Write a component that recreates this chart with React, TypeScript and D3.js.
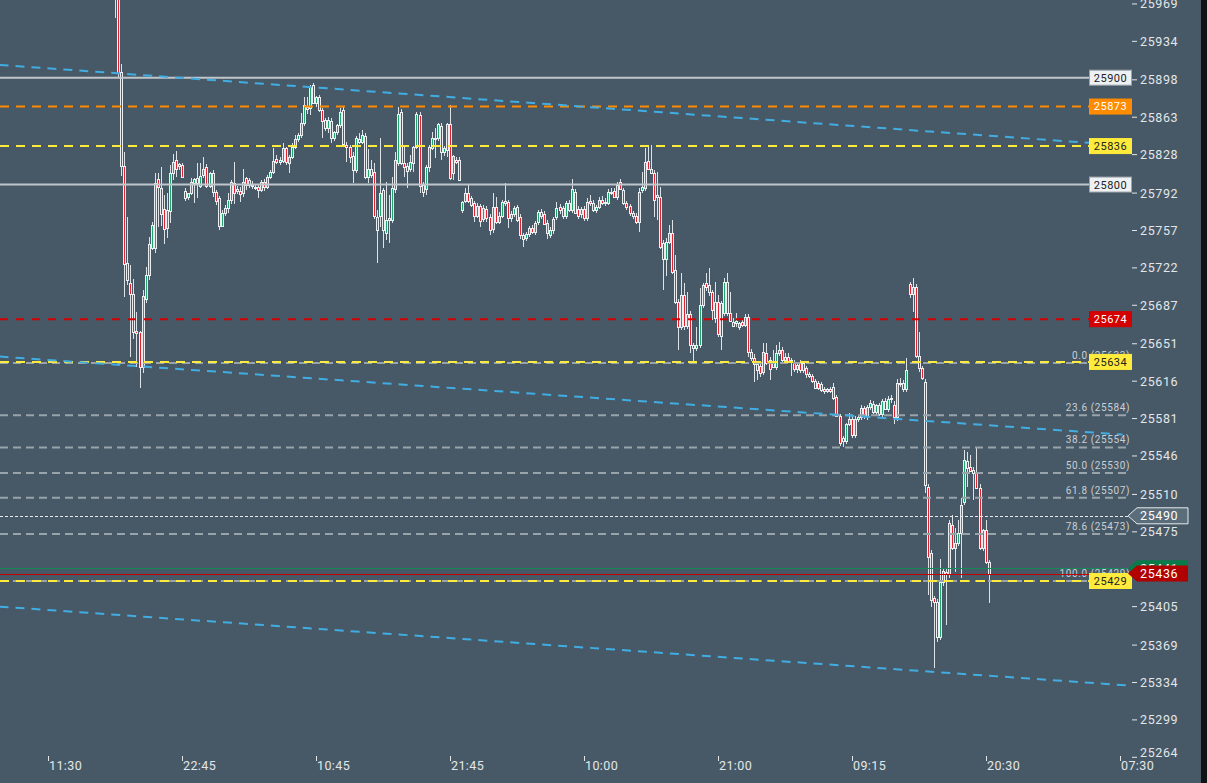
import * as d3 from 'd3';

const W = 1207;
const H = 783;

// OHLC per bar: [open, high, low, close]
const candles: [number, number, number, number][] = [
  [25990, 25998, 25956, 25978], [25980, 25988, 25900, 25904], [25905, 25913, 25808, 25817], [25817, 25830, 25695, 25726],
  [25727, 25770, 25706, 25711], [25708, 25725, 25639, 25698], [25698, 25712, 25655, 25662], [25663, 25681, 25629, 25661],
  [25662, 25663, 25610, 25629], [25629, 25701, 25624, 25696], [25693, 25723, 25689, 25715], [25715, 25751, 25711, 25744],
  [25741, 25765, 25739, 25762], [25741, 25811, 25736, 25801], [25805, 25811, 25760, 25798], [25797, 25816, 25761, 25772],
  [25777, 25790, 25744, 25758], [25759, 25792, 25750, 25776], [25775, 25818, 25764, 25811], [25811, 25829, 25804, 25821],
  [25823, 25831, 25807, 25815], [25817, 25820, 25814, 25819], [25818, 25820, 25806, 25807], [25794, 25797, 25785, 25787],
  [25788, 25792, 25786, 25792], [25792, 25806, 25790, 25802], [25801, 25806, 25783, 25805], [25806, 25820, 25787, 25801],
  [25799, 25820, 25797, 25808], [25809, 25826, 25806, 25815], [25816, 25819, 25797, 25799], [25799, 25812, 25797, 25811],
  [25811, 25814, 25788, 25793], [25793, 25795, 25781, 25785], [25787, 25789, 25757, 25761], [25761, 25776, 25760, 25773],
  [25773, 25781, 25771, 25778], [25778, 25792, 25773, 25786], [25786, 25804, 25782, 25802], [25801, 25821, 25782, 25792],
  [25796, 25799, 25791, 25794], [25794, 25798, 25784, 25791], [25792, 25815, 25788, 25802], [25806, 25807, 25795, 25800],
  [25804, 25806, 25797, 25800], [25800, 25803, 25796, 25799], [25798, 25800, 25795, 25798], [25798, 25800, 25787, 25795],
  [25795, 25804, 25793, 25802], [25802, 25805, 25794, 25798], [25798, 25809, 25796, 25807], [25807, 25814, 25805, 25812],
  [25812, 25834, 25810, 25822], [25824, 25828, 25819, 25821], [25821, 25826, 25818, 25823], [25822, 25839, 25820, 25834],
  [25834, 25835, 25818, 25821], [25820, 25828, 25811, 25826], [25826, 25839, 25824, 25835], [25835, 25846, 25833, 25843],
  [25843, 25848, 25840, 25846], [25846, 25867, 25844, 25858], [25858, 25882, 25855, 25874], [25873, 25882, 25866, 25871],
  [25872, 25893, 25865, 25891], [25893, 25895, 25875, 25876], [25876, 25883, 25873, 25882], [25882, 25884, 25868, 25870],
  [25870, 25872, 25844, 25859], [25860, 25862, 25850, 25853], [25853, 25863, 25848, 25860], [25859, 25862, 25839, 25844],
  [25844, 25850, 25841, 25849], [25849, 25857, 25846, 25856], [25856, 25872, 25853, 25868], [25870, 25873, 25836, 25838],
  [25837, 25840, 25821, 25835], [25835, 25837, 25820, 25826], [25827, 25830, 25801, 25814], [25814, 25845, 25811, 25844],
  [25843, 25848, 25838, 25840], [25840, 25851, 25838, 25846], [25845, 25848, 25805, 25807], [25807, 25833, 25801, 25815],
  [25815, 25823, 25806, 25809], [25812, 25820, 25768, 25771], [25770, 25776, 25727, 25757], [25771, 25844, 25760, 25792],
  [25795, 25797, 25741, 25757], [25755, 25802, 25748, 25767], [25767, 25790, 25745, 25769], [25767, 25807, 25764, 25797],
  [25796, 25830, 25792, 25823], [25820, 25873, 25817, 25866], [25868, 25871, 25818, 25820], [25820, 25836, 25807, 25816],
  [25817, 25820, 25797, 25813], [25815, 25828, 25812, 25821], [25820, 25836, 25812, 25835], [25835, 25868, 25833, 25866],
  [25865, 25868, 25792, 25799], [25800, 25802, 25788, 25793], [25796, 25818, 25790, 25816], [25816, 25837, 25812, 25835],
  [25834, 25849, 25832, 25844], [25844, 25853, 25825, 25843], [25844, 25858, 25841, 25857], [25855, 25858, 25823, 25830],
  [25830, 25836, 25827, 25834], [25832, 25858, 25826, 25857], [25857, 25874, 25804, 25806], [25811, 25828, 25804, 25827],
  [25823, 25826, 25819, 25821], [25823, 25826, 25803, 25804], [25776, 25785, 25773, 25784], [25785, 25797, 25783, 25792],
  [25792, 25800, 25783, 25785], [25787, 25789, 25779, 25781], [25783, 25785, 25765, 25771], [25771, 25783, 25769, 25780],
  [25780, 25782, 25760, 25766], [25768, 25781, 25765, 25778], [25777, 25780, 25765, 25769], [25770, 25772, 25753, 25757],
  [25758, 25792, 25755, 25779], [25779, 25788, 25763, 25765], [25765, 25774, 25763, 25771], [25771, 25786, 25769, 25784],
  [25785, 25801, 25780, 25783], [25784, 25786, 25759, 25769], [25769, 25775, 25765, 25772], [25772, 25780, 25770, 25778],
  [25779, 25781, 25765, 25767], [25770, 25772, 25749, 25753], [25753, 25755, 25742, 25749], [25750, 25756, 25747, 25754],
  [25754, 25761, 25751, 25759], [25759, 25762, 25754, 25756], [25756, 25766, 25753, 25764], [25765, 25776, 25762, 25774],
  [25774, 25777, 25768, 25771], [25772, 25775, 25762, 25763], [25755, 25767, 25749, 25764], [25753, 25760, 25750, 25757],
  [25757, 25770, 25754, 25768], [25770, 25784, 25767, 25778], [25779, 25782, 25772, 25776], [25778, 25780, 25768, 25771],
  [25771, 25785, 25768, 25783], [25783, 25786, 25774, 25776], [25776, 25805, 25773, 25796], [25793, 25796, 25772, 25773],
  [25777, 25780, 25768, 25771], [25772, 25779, 25769, 25777], [25777, 25780, 25766, 25769], [25769, 25787, 25766, 25784],
  [25785, 25790, 25780, 25783], [25783, 25786, 25774, 25776], [25776, 25781, 25773, 25779], [25779, 25788, 25777, 25786],
  [25786, 25789, 25781, 25783], [25783, 25787, 25780, 25784], [25783, 25796, 25781, 25793], [25793, 25797, 25790, 25792],
  [25794, 25797, 25787, 25788], [25788, 25802, 25786, 25800], [25802, 25805, 25795, 25796], [25795, 25797, 25781, 25783],
  [25783, 25785, 25776, 25779], [25780, 25782, 25771, 25773], [25773, 25775, 25768, 25771], [25771, 25773, 25763, 25765],
  [25765, 25797, 25756, 25793], [25795, 25812, 25792, 25798], [25797, 25834, 25794, 25821], [25822, 25837, 25815, 25815],
  [25815, 25837, 25810, 25811], [25811, 25814, 25770, 25786], [25790, 25812, 25767, 25788], [25788, 25798, 25740, 25742],
  [25745, 25748, 25701, 25730], [25730, 25750, 25714, 25746], [25746, 25762, 25744, 25755], [25755, 25767, 25716, 25718],
  [25720, 25734, 25688, 25690], [25690, 25693, 25645, 25667], [25667, 25717, 25664, 25697], [25697, 25708, 25664, 25668],
  [25668, 25699, 25665, 25679], [25679, 25682, 25642, 25650], [25650, 25652, 25634, 25647], [25647, 25667, 25644, 25650],
  [25650, 25703, 25647, 25687], [25687, 25708, 25684, 25706], [25708, 25717, 25700, 25704], [25706, 25722, 25696, 25699],
  [25699, 25701, 25673, 25683], [25690, 25709, 25670, 25675], [25690, 25697, 25657, 25660], [25689, 25691, 25645, 25658],
  [25680, 25713, 25677, 25709], [25709, 25717, 25677, 25680], [25680, 25699, 25671, 25672], [25671, 25675, 25667, 25668],
  [25670, 25680, 25667, 25672], [25667, 25671, 25664, 25670], [25671, 25673, 25667, 25669], [25669, 25679, 25667, 25676],
  [25676, 25679, 25639, 25643], [25643, 25646, 25635, 25638], [25638, 25641, 25615, 25632], [25632, 25635, 25617, 25626],
  [25630, 25634, 25620, 25624], [25625, 25652, 25622, 25643], [25642, 25652, 25631, 25633], [25636, 25639, 25617, 25627],
  [25633, 25645, 25628, 25629], [25629, 25650, 25626, 25642], [25642, 25653, 25640, 25645], [25645, 25648, 25633, 25636],
  [25636, 25642, 25633, 25639], [25639, 25642, 25633, 25635], [25636, 25638, 25621, 25634], [25634, 25636, 25625, 25627],
  [25627, 25633, 25624, 25631], [25634, 25636, 25624, 25626], [25633, 25635, 25624, 25626], [25628, 25630, 25619, 25623],
  [25623, 25625, 25619, 25621], [25621, 25623, 25614, 25616], [25616, 25618, 25609, 25610], [25614, 25616, 25608, 25610],
  [25613, 25615, 25606, 25608], [25609, 25611, 25604, 25607], [25607, 25610, 25605, 25609], [25609, 25611, 25605, 25607],
  [25611, 25614, 25598, 25600], [25601, 25603, 25582, 25583], [25583, 25585, 25555, 25558], [25563, 25565, 25554, 25560],
  [25560, 25577, 25557, 25576], [25576, 25586, 25574, 25581], [25581, 25584, 25563, 25566], [25566, 25583, 25563, 25581],
  [25581, 25584, 25578, 25582], [25582, 25594, 25580, 25591], [25591, 25593, 25581, 25583], [25583, 25594, 25580, 25592],
  [25592, 25598, 25589, 25596], [25595, 25597, 25585, 25587], [25587, 25595, 25584, 25594], [25594, 25596, 25583, 25585],
  [25585, 25599, 25582, 25597], [25597, 25600, 25589, 25590], [25590, 25602, 25587, 25599], [25599, 25603, 25596, 25600],
  [25594, 25597, 25576, 25582], [25582, 25618, 25579, 25614], [25614, 25619, 25611, 25613], [25614, 25617, 25606, 25609],
  [25609, 25638, 25606, 25626], [25707, 25709, 25694, 25698], [25698, 25713, 25681, 25704], [25704, 25707, 25638, 25640],
  [25640, 25662, 25625, 25628], [25628, 25630, 25617, 25619], [25615, 25618, 25511, 25519], [25517, 25520, 25416, 25451],
  [25455, 25458, 25405, 25411], [25413, 25415, 25348, 25409], [25409, 25412, 25372, 25377], [25377, 25450, 25374, 25428],
  [25428, 25441, 25424, 25438], [25437, 25440, 25388, 25436], [25436, 25486, 25432, 25483], [25481, 25491, 25458, 25460],
  [25460, 25479, 25437, 25465], [25465, 25486, 25462, 25474], [25474, 25507, 25432, 25500], [25503, 25552, 25500, 25542],
  [25541, 25550, 25517, 25535], [25536, 25547, 25532, 25532], [25533, 25536, 25505, 25530], [25530, 25554, 25515, 25516],
  [25516, 25520, 25458, 25460], [25460, 25478, 25457, 25477], [25477, 25486, 25445, 25447], [25447, 25449, 25408, 25436],
];

// time axis: label text and the bar it sits on
const timeLabels = ['11:30', '22:45', '10:45', '21:45', '10:00', '21:00', '09:15', '20:30', '07:30'];
const timeLabelBars = [-22, 22, 66, 110, 154, 198, 242, 286, 330];

const priceTicks = [
  25969, 25934, 25898, 25863, 25828, 25792, 25757, 25722, 25687, 25651, 25616,
  25581, 25546, 25510, 25475, 25440, 25405, 25369, 25334, 25299, 25264,
];

// horizontal levels with a price tag
const levelPrices = [25900, 25873, 25836, 25800, 25674, 25634, 25429];
const levelKinds = ['white', 'orange', 'yellow', 'white', 'red', 'yellow', 'yellow'];

// fibonacci retracement
const fibRatios = ['0.0', '23.6', '38.2', '50.0', '61.8', '78.6', '100.0'];
const fibPrices = [25633, 25584, 25554, 25530, 25507, 25473, 25429];

// trend lines: [bar, price] start / end
const trendStarts: [number, number][] = [[-38, 25912], [-38, 25639], [-38, 25405]];
const trendEnds: [number, number][] = [[320, 25839], [331, 25566], [334, 25331]];

const markPrice = 25490;
const bidPrice = 25441;
const lastPrice = 25436;

const BG = '#475966';
const UP = '#1fa56c';
const DOWN = '#e0242f';
const EDGE = '#eceff2';
const TXT = '#e3e7ea';

const kindStyle: Record<string, { line: string; dash?: string; bg: string; fg: string }> = {
  white:  { line: '#bfc6cc', bg: '#eef1f4', fg: '#222' },
  orange: { line: '#ff8c00', dash: '9 7', bg: '#ff8c00', fg: '#fff' },
  yellow: { line: '#ffeb3b', dash: '9 7', bg: '#ffeb3b', fg: '#222' },
  red:    { line: '#d50000', dash: '8 8', bg: '#d40000', fg: '#fff' },
};

export default function App() {
  const x = d3.scaleLinear().domain([-22, 330]).range([48.2, 1119.5]);
  const y = d3.scaleLinear().domain([25264, 25969]).range([757.3, 3.95]);

  const plotRight = 1132;
  const tagLeft = 1089;

  const tagPath = (yy: number) =>
    `M1128,${yy} L1137,${yy - 8} L1188,${yy - 8} L1188,${yy + 8} L1137,${yy + 8} Z`;

  return (
    <div style={{ width: W, height: H, overflow: 'hidden' }}>
      <style>{`html,body{margin:0;padding:0;overflow:hidden;background:${BG}}`}</style>
      <svg width={W} height={H} style={{ display: 'block', fontFamily: 'Roboto, sans-serif' }}>
        <rect width={W} height={H} fill={BG} />

        {/* candles */}
        <g shapeRendering="crispEdges">
          {candles.map(([o, h, l, c], i) => {
            const cx = Math.round(x(i));
            const top = Math.round(y(Math.max(o, c)));
            const bot = Math.round(y(Math.min(o, c)));
            const bh = Math.max(bot - top, 1);
            return (
              <g key={i}>
                <line x1={cx + 0.5} x2={cx + 0.5} y1={y(Math.max(h, o, c))} y2={y(Math.min(l, o, c))}
                  stroke="#dde2e6" strokeWidth={1} />
                <rect x={cx - 0.5} y={top + 0.5} width={2} height={bh}
                  fill={c > o ? UP : DOWN} stroke={EDGE} strokeWidth={1} />
              </g>
            );
          })}
        </g>

        {/* fib levels */}
        {fibPrices.map((p, i) => (
          <g key={'f' + i}>
            <line x1={0} x2={1130} y1={y(p)} y2={y(p)} stroke="#99a3aa" strokeWidth={2} strokeDasharray="8 5" />
            <text x={1130} y={y(p) - 4} textAnchor="end" fontSize={10} letterSpacing={0.6} fill="#c9d0d6">
              {`${fibRatios[i]} (${p})`}
            </text>
          </g>
        ))}

        {/* horizontal levels */}
        {levelPrices.map((p, i) => {
          const s = kindStyle[levelKinds[i]];
          return (
            <line key={'l' + i} x1={0} x2={tagLeft} y1={y(p)} y2={y(p)} stroke={s.line}
              strokeWidth={2} strokeDasharray={s.dash} />
          );
        })}

        {/* trend lines */}
        {trendStarts.map((s, i) => (
          <line key={'t' + i} x1={x(s[0])} y1={y(s[1])} x2={x(trendEnds[i][0])} y2={y(trendEnds[i][1])}
            stroke="#41ade2" strokeWidth={2} strokeDasharray="9 7" />
        ))}

        {/* mark / bid / last lines */}
        <line x1={0} x2={1128} y1={Math.round(y(markPrice)) + 0.5} y2={Math.round(y(markPrice)) + 0.5}
          stroke="#e8ebee" strokeWidth={1} strokeDasharray="3 2" />
        <line x1={0} x2={1128} y1={Math.round(y(bidPrice)) + 0.5} y2={Math.round(y(bidPrice)) + 0.5}
          stroke="#148a5a" strokeWidth={1} />
        <line x1={0} x2={1128} y1={Math.round(y(lastPrice)) + 0.5} y2={Math.round(y(lastPrice)) + 0.5}
          stroke="#c80000" strokeWidth={1} />

        {/* price axis */}
        {priceTicks.map((p, i) => {
          const yy = y(p);
          return (
            <g key={'p' + i}>
              <line x1={plotRight} x2={plotRight + 5} y1={yy} y2={yy} stroke={TXT} strokeWidth={1} />
              <text x={1140} y={Math.min(yy, 752)} dy="0.36em" fontSize={12.5} letterSpacing={0.6} fill={TXT}>
                {p}
              </text>
            </g>
          );
        })}

        {/* level tags */}
        {levelPrices.map((p, i) => {
          const s = kindStyle[levelKinds[i]];
          const yy = y(p);
          return (
            <g key={'lt' + i}>
              <rect x={tagLeft + 0.5} y={yy - 7.5} width={plotRight - tagLeft - 1} height={15} fill={s.bg}
                stroke={levelKinds[i] === 'white' ? '#9aa3aa' : s.bg} strokeWidth={1} />
              <text x={(tagLeft + plotRight) / 2} y={yy} dy="0.36em" textAnchor="middle" fontSize={11}
                letterSpacing={0.5} fill={s.fg}>{p}</text>
            </g>
          );
        })}

        {/* bid / last / mark tags */}
        <path d={tagPath(y(bidPrice))} fill="#0b7a4b" />
        <text x={1140} y={y(bidPrice)} dy="0.36em" fontSize={12.5} letterSpacing={0.6} fill="#fff">{bidPrice}</text>
        <path d={tagPath(y(lastPrice))} fill="#b00000" />
        <text x={1140} y={y(lastPrice)} dy="0.36em" fontSize={12.5} letterSpacing={0.6} fill="#fff">{lastPrice}</text>
        <path d={tagPath(y(markPrice))} fill="#5a6d7a" stroke="#e8ebee" strokeWidth={1} />
        <text x={1140} y={y(markPrice)} dy="0.36em" fontSize={12.5} letterSpacing={0.6} fill="#fff">{markPrice}</text>

        {/* time axis */}
        {timeLabels.map((t, i) => {
          const tx = Math.round(x(timeLabelBars[i])) + 0.5;
          return (
            <g key={'x' + i}>
              <line x1={tx} x2={tx} y1={756} y2={761} stroke={TXT} strokeWidth={1} />
              <text x={tx + 0.5} y={770} fontSize={12.5} letterSpacing={0.4} fill={TXT}>{t}</text>
            </g>
          );
        })}

        <rect x={1201} y={0} width={W - 1201} height={H} fill="#101214" />
      </svg>
    </div>
  );
}
